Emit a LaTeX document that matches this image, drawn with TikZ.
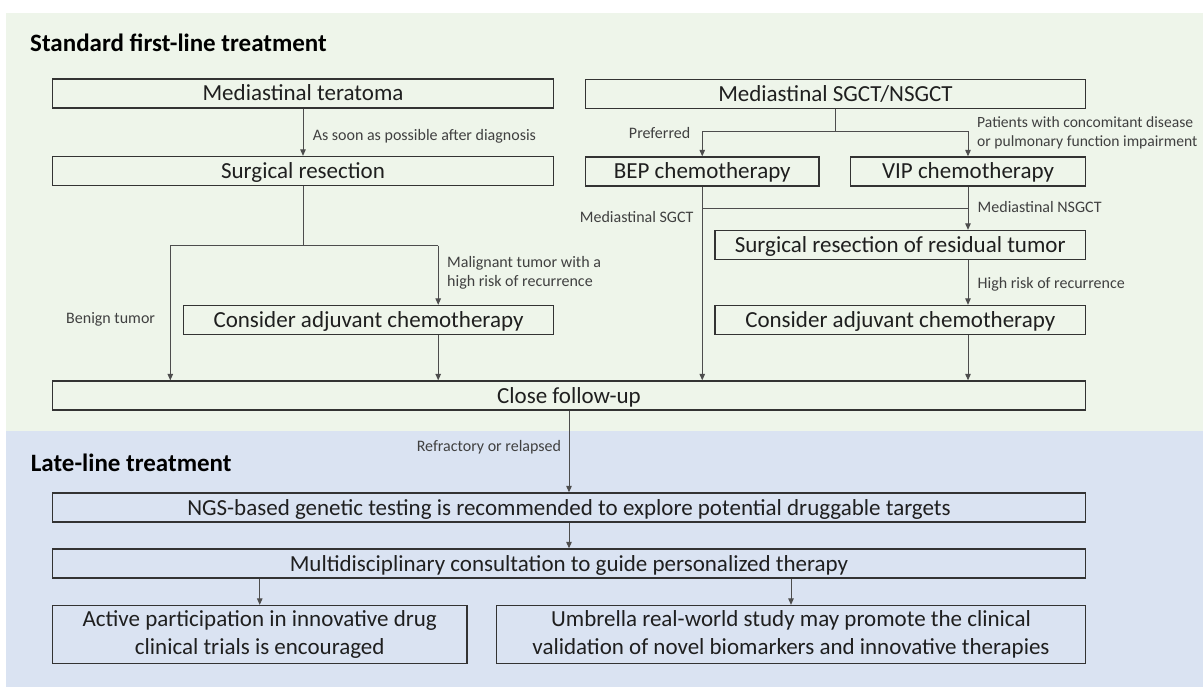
\documentclass[tikz,border=0pt]{standalone}
\usepackage{fontspec}
\setmainfont{Carlito}
\usetikzlibrary{arrows.meta}
\definecolor{greenbg}{HTML}{EEF5EA}
\definecolor{bluebg}{HTML}{DAE3F2}
\definecolor{boxline}{HTML}{333333}
\definecolor{conline}{HTML}{4D4D4D}
\definecolor{labcol}{HTML}{404040}
\begin{document}
\begin{tikzpicture}[x=1pt,y=-1pt,
  box/.style={draw=boxline, line width=1.3pt, inner sep=0pt, minimum height=29pt,
    font=\fontsize{23}{28}\selectfont, text=black!88, align=center},
  one/.style={text height=20pt, text depth=5pt},
  conn/.style={draw=conline, line width=1pt},
  arr/.style={conn, -{Triangle[length=6.5pt,width=5.5pt]}},
  lab/.style={font=\fontsize{16}{19}\selectfont, text=labcol, inner sep=0pt, align=left},
  lab1/.style={lab, text height=13pt, text depth=2.7pt},
  ttl/.style={font=\fontsize{25}{29}\selectfont\bfseries, inner sep=0pt, anchor=west, text height=17.5pt, text depth=1pt}]

\useasboundingbox (0,0) rectangle (1203,687);
\fill[white] (0,0) rectangle (1203,687);
\fill[greenbg] (6,13) rectangle (1203,431);
\fill[bluebg] (6,431) rectangle (1203,687);

% titles
\node[ttl] (t1) at (30,43) {Standard first-line treatment};
\node[ttl] (t2) at (30.7,463) {Late-line treatment};

% boxes
\node[box, one, minimum width=501pt] (ter) at (303,93.5) {Mediastinal teratoma};
\node[box, one, minimum width=501pt] (surg) at (303,171) {Surgical resection};
\node[box, one, minimum width=500pt] (sgct) at (835.5,94) {Mediastinal SGCT/NSGCT};
\node[box, one, minimum width=233.5pt] (bep) at (702.25,171.5) {BEP chemotherapy};
\node[box, one, minimum width=235pt] (vip) at (968,171.5) {VIP chemotherapy};
\node[box, one, minimum width=370.5pt] (res) at (900.25,245) {Surgical resection of residual tumor};
\node[box, one, minimum width=370.5pt] (conR) at (900.25,320) {Consider adjuvant chemotherapy};
\node[box, one, minimum width=370pt] (conL) at (368.5,320) {Consider adjuvant chemotherapy};
\node[box, one, minimum width=1033pt] (follow) at (569,395.5) {Close follow-up};
\node[box, one, minimum width=1033pt] (ngs) at (569,507.5) {NGS-based genetic testing is recommended to explore potential druggable targets};
\node[box, one, minimum width=1033pt] (multi) at (569,563.5) {Multidisciplinary consultation to guide personalized therapy};
\node[box, minimum width=414.5pt, minimum height=58pt] (act) at (259.75,634.5) {Active participation in innovative drug\\clinical trials is encouraged};
\node[box, minimum width=589pt, minimum height=58pt] (umb) at (791,634.5) {Umbrella real-world study may promote the clinical\\validation of novel biomarkers and innovative therapies};

% left branch
\draw[arr] (ter.south) -- (surg.north);
\coordinate (sj) at (303,245.7);
\coordinate (bL) at (170.3,245.7);
\coordinate (bR) at (438.2,245.7);
\draw[conn] (surg.south) -- (sj);
\draw[conn] (bL) -- (bR);
\draw[arr] (bL) -- (bL |- follow.north);
\draw[arr] (bR) -- (bR |- conL.north);
\draw[arr] (conL.south -| bR) -- (follow.north -| bR);

% right branch
\coordinate (pj) at (835.5,132);
\draw[conn] (sgct.south) -- (pj);
\draw[arr] (pj) -| (bep.north);
\draw[arr] (pj) -| (vip.north);
\draw[arr] (bep.south) -- (bep.south |- follow.north);
\coordinate (mj) at (702.25,209);
\draw[conn] (mj) -- (mj -| vip.south);
\draw[arr] (vip.south) -- (vip.south |- res.north);
\draw[arr] (res.south -| vip.south) -- (conR.north -| vip.south);
\draw[arr] (conR.south -| vip.south) -- (follow.north -| vip.south);

% late line
\draw[arr] (follow.south) -- (ngs.north);
\draw[arr] (ngs.south) -- (multi.north);
\draw[arr] (multi.south -| act.north) -- (act.north);
\draw[arr] (multi.south -| umb.north) -- (umb.north);

% labels
\node[lab1, anchor=west] (l1) at (312.6,135) {As soon as possible after diagnosis};
\node[lab, anchor=west] (l2) at (447,272.5) {Malignant tumor with a\\high risk of recurrence};
\node[lab1, anchor=west] (l3) at (66,318) {Benign tumor};
\node[lab1, anchor=east] (l4) at (690.4,133) {Preferred};
\node[lab, anchor=west, font=\fontsize{15.6}{19}\selectfont] (l5) at (977,132.5) {Patients with concomitant disease\\or pulmonary function impairment};
\node[lab1, anchor=west] (l6) at (579.7,217) {Mediastinal SGCT};
\node[lab1, anchor=west] (l7) at (977.5,207) {Mediastinal NSGCT};
\node[lab1, anchor=west] (l8) at (977.5,283) {High risk of recurrence};
\node[lab1, anchor=west] (l9) at (416.6,446) {Refractory or relapsed};
\end{tikzpicture}
\end{document}
